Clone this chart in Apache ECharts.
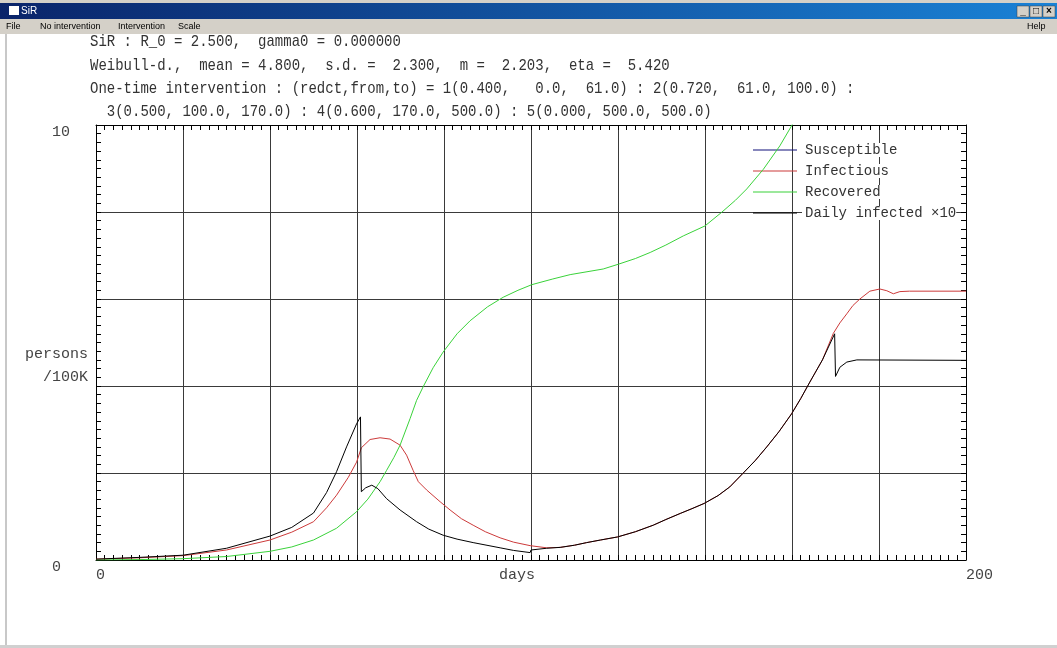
<!DOCTYPE html>
<html>
<head>
<meta charset="utf-8">
<script src="https://cdn.jsdelivr.net/npm/echarts@6/dist/echarts.min.js"></script>
<style>
html,body{margin:0;padding:0;background:#fff;}
#chart{width:1057px;height:648px;}
</style>
</head>
<body>
<div id="chart"></div>
<script>
// ---- data ----
const seriesNames = ['Susceptible', 'Infectious', 'Recovered', 'Daily infected ×10'];
const xTickLabels = ['0', '200'];
const yTickLabels = ['0', '10'];
const headerLines = [
  'SiR : R_0 = 2.500,  gamma0 = 0.000000',
  'Weibull-d.,  mean = 4.800,  s.d. =  2.300,  m =  2.203,  eta =  5.420',
  'One-time intervention : (redct,from,to) = 1(0.400,   0.0,  61.0) : 2(0.720,  61.0, 100.0) :',
  '  3(0.500, 100.0, 170.0) : 4(0.600, 170.0, 500.0) : 5(0.000, 500.0, 500.0)'
];
const menuItems = ['File', 'No intervention', 'Intervention', 'Scale'];

// Susceptible stays far above the 0-10 scale: nothing of it is visible.
const susceptible = [];

const infectious = [
  [0,0.02],[10,0.05],[20,0.10],[30,0.23],[40,0.46],[45,0.64],[50,0.88],[53,1.2],
  [55.3,1.49],[58,1.9],[59.9,2.25],[61,2.58],[63,2.77],[65.3,2.81],[67.6,2.78],
  [69.9,2.64],[71.4,2.41],[72.9,2.06],[74.1,1.80],[76,1.61],[79.1,1.34],[81.4,1.15],
  [84,0.95],[86.7,0.80],[89.5,0.65],[92.9,0.51],[96,0.41],[99.8,0.33],[103.6,0.28],
  [106.7,0.29],[110,0.34],[112.8,0.40],[116,0.46],[119.9,0.53],[124,0.65],[128.1,0.80],
  [131,0.93],[134.3,1.07],[137,1.18],[139.8,1.30],[143,1.48],[145.7,1.68],[148.8,2.0],
  [151.5,2.28],[154.2,2.6],[157,2.95],[159.9,3.36],[162,3.71],[164.1,4.09],[167,4.6],
  [169.5,5.21],[171,5.45],[172.6,5.66],[174,5.85],[175.6,6.0],[177.9,6.18],[180.2,6.23],
  [181.8,6.19],[183.3,6.12],[184.8,6.17],[187,6.18],[200,6.18]
];

const recovered = [
  [0,0.0],[10,0.01],[20,0.03],[30,0.08],[40,0.20],[45,0.30],[50,0.46],[55.3,0.73],
  [59.9,1.11],[62.5,1.40],[65.3,1.80],[66.8,2.06],[68.5,2.36],[69.9,2.64],[72.2,3.25],
  [73.7,3.67],[75.2,3.98],[77.5,4.42],[79.8,4.78],[83,5.20],[86,5.50],[90,5.82],
  [93.6,6.04],[97,6.20],[100.2,6.33],[105,6.46],[109,6.56],[116.6,6.69],[120.1,6.80],
  [124,6.93],[127.4,7.07],[131,7.24],[135,7.45],[140,7.68],[143.8,7.99],[147,8.27],
  [149.6,8.53],[153.4,8.98],[157.2,9.52],[159.9,9.98],[161,10.2]
];

const dailyInfected = [
  [0,0.02],[10,0.06],[20,0.11],[30,0.27],[40,0.55],[45,0.75],[50,1.08],[53,1.55],
  [55.3,2.03],[57.6,2.6],[59.9,3.13],[60.8,3.29],[61.0,1.57],[62,1.66],[63.4,1.72],
  [64.8,1.64],[66.8,1.41],[69.9,1.15],[73.7,0.88],[76.5,0.71],[79.8,0.57],[83,0.48],
  [86.7,0.40],[92.9,0.28],[96,0.22],[99.8,0.17],[100,0.23],[103.6,0.27],
  [106.7,0.29],[110,0.34],[112.8,0.40],[116,0.46],[119.9,0.53],[124,0.65],[128.1,0.80],
  [131,0.93],[134.3,1.07],[137,1.18],[139.8,1.30],[143,1.48],[145.7,1.68],[148.8,2.0],
  [151.5,2.28],[154.2,2.6],[157,2.95],[159.9,3.36],[162,3.71],[164.1,4.09],[167,4.6],
  [169.8,5.2],[170,4.22],[171,4.43],[172.6,4.55],[174.9,4.60],[200,4.59]
];

const seriesColors = ['#10107a', '#cc3a3a', '#3ad23a', '#000000'];

// ---- chart ----
const chart = echarts.init(document.getElementById('chart'), null, {renderer: 'canvas'});
const MONO = "'Liberation Mono','DejaVu Sans Mono',monospace";
const SANS = "'Liberation Sans',Arial,sans-serif";
const gridL = 96, gridT = 125, gridW = 870, gridH = 435;

const graphics = [];
// window frame / title bar
graphics.push({type:'rect', shape:{x:0,y:0,width:1057,height:3}, style:{fill:'#d4d0c8'}, silent:true});
graphics.push({type:'rect', shape:{x:0,y:3,width:1057,height:16},
  style:{fill:{type:'linear',x:0,y:0,x2:1,y2:0,colorStops:[{offset:0,color:'#0a246a'},{offset:1,color:'#1a82d6'}]}}, silent:true});
graphics.push({type:'rect', shape:{x:9,y:6,width:10,height:9}, style:{fill:'#ffffff'}, silent:true});
graphics.push({type:'text', x:21, y:11, style:{text:'SiR', fill:'#ffffff', font:'10px '+SANS, verticalAlign:'middle'}, silent:true});
// window buttons
const btnX = [1017, 1030, 1043];
const btnT = ['_', '□', '×'];
btnX.forEach((bx, i) => {
  graphics.push({type:'rect', shape:{x:bx,y:6,width:12,height:11}, style:{fill:'#d4d0c8', stroke:'#404040', lineWidth:0.5}, silent:true});
  graphics.push({type:'text', x:bx+6, y:11.5, style:{text:btnT[i], fill:'#000', font:'bold 10px '+SANS, align:'center', verticalAlign:'middle'}, silent:true});
});
// menu bar
graphics.push({type:'rect', shape:{x:0,y:19,width:1057,height:15}, style:{fill:'#d4d0c8'}, silent:true});
const menuX = [6, 40, 118, 178];
menuItems.forEach((m, i) => {
  graphics.push({type:'text', x:menuX[i], y:27, style:{text:m, fill:'#000', font:'9px '+SANS, verticalAlign:'middle'}, silent:true});
});
graphics.push({type:'text', x:1027, y:27, style:{text:'Help', fill:'#000', font:'9px '+SANS, verticalAlign:'middle'}, silent:true});
// left and bottom frame
graphics.push({type:'rect', shape:{x:5,y:34,width:2,height:612}, style:{fill:'#c8c8c8'}, silent:true});
graphics.push({type:'rect', shape:{x:0,y:645,width:1057,height:3}, style:{fill:'#d0d0d0'}, silent:true});
// header text lines
const headerY = [42, 66, 89, 112];
headerLines.forEach((t, i) => {
  graphics.push({type:'text', x:90, y:headerY[i], scaleY:1.15, style:{text:t, fill:'#333', font:'14px '+MONO, verticalAlign:'middle'}, silent:true});
});

const tickCommon = {
  axisLine: {show: true, onZero: false, lineStyle: {color: '#000', width: 1}},
  axisTick: {show: true, inside: true, length: 5, lineStyle: {color: '#000'}},
  minorTick: {show: true, splitNumber: 10, length: 5, lineStyle: {color: '#000'}}
};

const option = {
  animation: false,
  backgroundColor: '#ffffff',
  grid: {left: gridL, top: gridT, width: gridW, height: gridH, containLabel: false, outerBoundsMode: 'none'},
  legend: {
    data: seriesNames,
    orient: 'vertical',
    left: 748, top: 138,
    itemWidth: 44, itemHeight: 1, itemGap: 7,
    icon: 'rect',
    selectedMode: false,
    textStyle: {fontFamily: MONO, fontSize: 14, color: '#333', lineHeight: 14,
                backgroundColor: '#ffffff', padding: [0, 0, 0, 3]}
  },
  xAxis: [
    Object.assign({
      type: 'value', min: 0, max: 200, interval: 20, position: 'bottom',
      name: 'days', nameLocation: 'middle', nameGap: 8, nameMoveOverlap: false,
      nameTextStyle: {fontFamily: MONO, fontSize: 15, color: '#444', verticalAlign: 'top', padding: [0, 28, 0, 0]},
      splitLine: {show: true, lineStyle: {color: '#3a3a3a', width: 1}},
      axisLabel: {
        show: true, margin: 8, align: 'left', verticalAlign: 'top',
        fontFamily: MONO, fontSize: 15, color: '#444',
        formatter: v => (v === 0 ? xTickLabels[0] : (v === 200 ? xTickLabels[1] : ''))
      }
    }, tickCommon),
    Object.assign({
      type: 'value', min: 0, max: 200, interval: 20, position: 'top',
      splitLine: {show: false},
      axisLabel: {show: false}
    }, tickCommon)
  ],
  yAxis: [
    Object.assign({
      type: 'value', min: 0, max: 10, interval: 2, position: 'left',
      name: 'persons\n/100K', nameLocation: 'middle', nameGap: 8, nameRotate: 0, nameMoveOverlap: false,
      nameTextStyle: {fontFamily: MONO, fontSize: 15, color: '#444', align: 'right', verticalAlign: 'top', lineHeight: 23},
      splitLine: {show: true, lineStyle: {color: '#3a3a3a', width: 1}},
      axisLabel: {
        show: true, margin: 44, align: 'left', verticalAlign: 'top',
        fontFamily: MONO, fontSize: 15, color: '#444',
        formatter: v => (v === 0 ? yTickLabels[0] : (v === 10 ? yTickLabels[1] : ''))
      }
    }, tickCommon),
    Object.assign({
      type: 'value', min: 0, max: 10, interval: 2, position: 'right',
      splitLine: {show: false},
      axisLabel: {show: false}
    }, tickCommon)
  ],
  series: [susceptible, infectious, recovered, dailyInfected].map((d, i) => ({
    name: seriesNames[i],
    type: 'line',
    data: d,
    xAxisIndex: 0, yAxisIndex: 0,
    showSymbol: false, symbol: 'none',
    smooth: false,
    clip: true,
    color: seriesColors[i],
    lineStyle: {color: seriesColors[i], width: 1},
    emphasis: {disabled: true},
    z: 2 + i
  })),
  graphic: graphics
};
chart.setOption(option);
</script>
</body>
</html>
